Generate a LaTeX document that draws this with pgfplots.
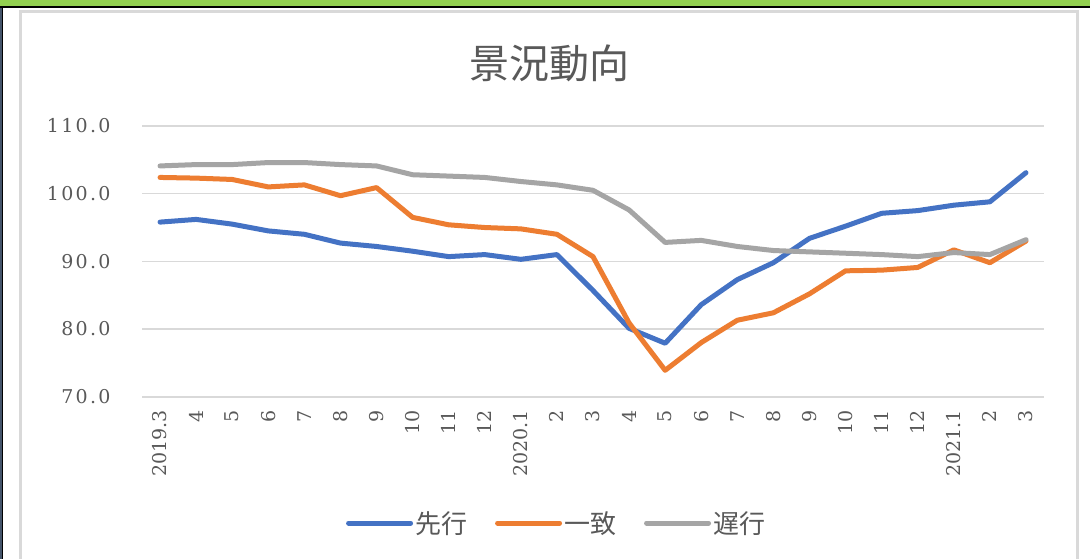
\documentclass[border=0pt]{standalone}
\usepackage{pgfplots}
\pgfplotsset{compat=1.18}
\usepackage{fontspec}
\setmainfont{DejaVu Serif}
\newfontfamily\cjk{Noto Sans CJK JP}
\newfontfamily\yfont{DejaVu Serif}[LetterSpace=12]
\definecolor{cblue}{HTML}{4472C4}
\definecolor{corange}{HTML}{ED7D31}
\definecolor{cgray}{HTML}{A5A5A5}
\definecolor{txt}{HTML}{595959}
\definecolor{gridc}{HTML}{D9D9D9}
\definecolor{topgreen}{HTML}{92D050}
\definecolor{navy}{HTML}{44546A}
\definecolor{framec}{HTML}{D9D9D9}
\pgfplotstableread{
x y
0 95.8
1 96.2
2 95.5
3 94.5
4 94.0
5 92.7
6 92.2
7 91.5
8 90.7
9 91.0
10 90.3
11 91.0
12 85.7
13 80.1
14 77.9
15 83.6
16 87.3
17 89.8
18 93.4
19 95.2
20 97.1
21 97.5
22 98.3
23 98.8
24 103.1
}\sensen
\pgfplotstableread{
x y
0 102.4
1 102.3
2 102.1
3 101.0
4 101.3
5 99.7
6 100.9
7 96.5
8 95.4
9 95.0
10 94.8
11 94.0
12 90.7
13 80.9
14 73.9
15 78.0
16 81.3
17 82.4
18 85.2
19 88.6
20 88.7
21 89.1
22 91.7
23 89.8
24 93.0
}\itchi
\pgfplotstableread{
x y
0 104.1
1 104.3
2 104.3
3 104.6
4 104.6
5 104.3
6 104.1
7 102.8
8 102.6
9 102.4
10 101.8
11 101.3
12 100.5
13 97.6
14 92.8
15 93.1
16 92.2
17 91.6
18 91.4
19 91.2
20 91.0
21 90.7
22 91.3
23 91.0
24 93.2
}\chikou
\begin{document}
\begin{tikzpicture}
\path[use as bounding box] (0,0) rectangle (1090bp,-559bp);
\fill[white] (0,0) rectangle (1090bp,-559bp);
\fill[topgreen] (0,0) rectangle (1090bp,-5.5bp);
\fill[black] (0,-5.5bp) rectangle (1090bp,-8bp);
\fill[navy] (0,-8bp) rectangle (1.5bp,-559bp);
\fill[black] (1.5bp,-8bp) rectangle (3bp,-559bp);
\draw[framec, line width=2.5bp] (20.5bp,-11.5bp) rectangle (1077.5bp,-575bp);
\node[text=txt, font=\cjk\fontsize{40bp}{42bp}\selectfont] at (549bp,-63bp) {景況動向};
\begin{axis}[
  at={(142bp,-396.7bp)}, anchor=south west,
  scale only axis, width=902bp, height=270.7bp,
  xmin=-0.5, xmax=24.5, ymin=70, ymax=110,
  ytick={70,80,90,100,110},
  xtick={0,...,24},
  xticklabels={2019.3,4,5,6,7,8,9,10,11,12,2020.1,2,3,4,5,6,7,8,9,10,11,12,2021.1,2,3},
  major tick length=0pt,
  axis line style={draw=none},
  ymajorgrids, grid style={gridc, line width=1.6bp},
  /pgf/number format/assume math mode=true,
  tick label style={font=\fontsize{19bp}{21bp}\selectfont, text=txt},
  yticklabel style={/pgf/number format/fixed, /pgf/number format/fixed zerofill, /pgf/number format/precision=1, xshift=-28bp, font=\yfont\fontsize{19bp}{21bp}\selectfont},
  xticklabel style={yshift=-10bp, rotate=90, anchor=east},
  legend columns=3,
  legend style={draw=none, fill=none, at={(0.4596,-0.4666)}, anchor=center,
    font=\cjk\fontsize{26bp}{28bp}\selectfont, text=txt,
    /tikz/every even column/.append style={column sep=26bp}},
  legend image code/.code={\draw[#1, line cap=round] (0bp,0bp) -- (62bp,0bp);},
  every axis plot/.append style={line width=5bp, line join=round, line cap=round},
]
\addplot[cblue] table {\sensen};
\addlegendentry{先行}
\addplot[corange] table {\itchi};
\addlegendentry{一致}
\addplot[cgray] table {\chikou};
\addlegendentry{遅行}
\end{axis}
\end{tikzpicture}
\end{document}
